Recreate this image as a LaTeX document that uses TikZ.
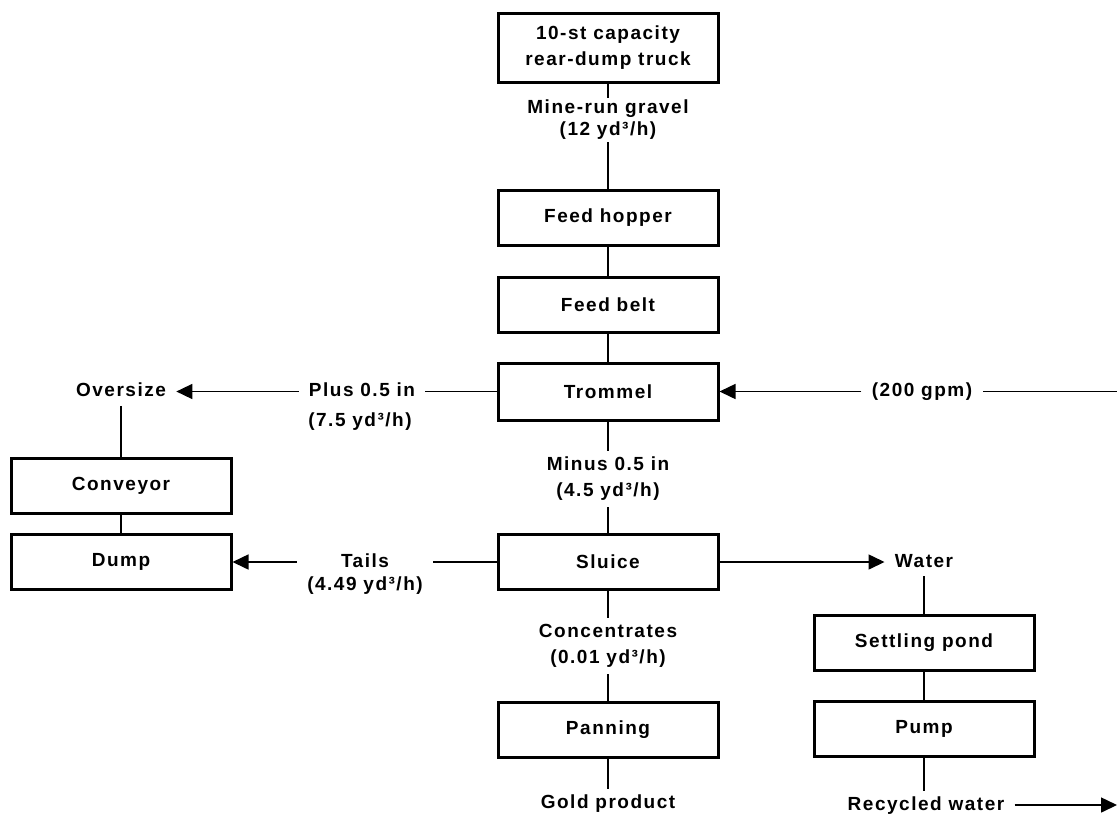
\documentclass[tikz,border=0pt]{standalone}
\usepackage{fontspec}
\setmainfont{Liberation Sans}[LetterSpace=8]
\usetikzlibrary{arrows.meta}
\usetikzlibrary{positioning}

\begin{document}
\begin{tikzpicture}[x=0.5pt,y=-0.5pt,
every node/.style={font=\fontsize{9.5}{13}\selectfont\bfseries},
box/.style={draw,line width=1.5pt,minimum width=110pt,minimum height=27.5pt,align=center},
lbl/.style={align=center,inner xsep=5pt,inner ysep=3pt},
hlbl/.style={inner xsep=5pt,inner ysep=2.5pt,text height=7pt,text depth=2pt},
flow/.style={line width=0.75pt},
arr/.style={line width=0.75pt,-{Triangle[length=8pt,width=7.5pt]}}]
%\draw[help lines] (0,0) grid (1117,814);
\useasboundingbox (0,0) rectangle (1117,814);

% main column
\node[box,minimum height=34.5pt] (Truck) at (608,47.5) {10-st capacity\\rear-dump truck};
\node[lbl,inner ysep=1pt] (Gravel) at (608,120) {Mine-run gravel\\[-2pt](12 yd³/h)};
\node[box] (Hopper) at (608,218) {Feed hopper};
\node[box] (Belt) at (608,304.5) {Feed belt};
\node[box,minimum height=28.5pt] (Trommel) at (608,391.5) {Trommel};
\node[lbl] (Minus) at (608,479) {Minus 0.5 in\\(4.5 yd³/h)};
\node[box] (Sluice) at (608,562) {Sluice};
\node[lbl] (Conc) at (608,646) {Concentrates\\(0.01 yd³/h)};
\node[box] (Panning) at (608,729.5) {Panning};
\node[hlbl] (Gold) at (608,803) {Gold product};

% oversize side
\node[hlbl] (Plus) at (362,391.5) {Plus 0.5 in};
\node[hlbl] (PlusRate) at (360,421) {(7.5 yd³/h)};
\node[hlbl] (Oversize) at (121,391.5) {Oversize};
\node[box] (Conveyor) at (121,486) {Conveyor};
\node[box] (Dump) at (121,562) {Dump};
\node[hlbl] (Tails) at (365,562) {Tails};
\node[hlbl] (TailsRate) at (365,585) {(4.49 yd³/h)};

% water side
\coordinate (WaterIn) at (1117,391.5);
\node[hlbl] (Gpm) at (922,391.5) {(200 gpm)};
\node[hlbl] (Water) at (924,562) {Water};
\node[box] (Pond) at (924,642.5) {Settling pond};
\node[box] (Pump) at (924,728.5) {Pump};
\node[hlbl] (Recycled) at (926,805) {Recycled water};
\coordinate (WaterOut) at (1117,805);

\draw[flow] (Truck) -- (Gravel);
\draw[flow] (Gravel) -- (Hopper);
\draw[flow] (Hopper) -- (Belt);
\draw[flow] (Belt) -- (Trommel);
\draw[flow] (Trommel) -- (Minus);
\draw[flow] (Minus) -- (Sluice);
\draw[flow] (Sluice) -- (Conc);
\draw[flow] (Conc) -- (Panning);
\draw[flow] (Panning) -- (Gold);

\draw[flow] (Trommel.west) -- (Plus.east);
\draw[arr] (Plus.west) -- (Oversize.east);
\draw[flow] (Oversize) -- (Conveyor);
\draw[flow] (Conveyor) -- (Dump);
\draw[flow] (Sluice.west) -- (TailsRate.east |- Sluice.west);
\draw[arr] (TailsRate.west |- Sluice.west) -- (Dump.east);

\draw[flow] (WaterIn) -- (Gpm.east);
\draw[arr] (Gpm.west) -- (Trommel.east);
\draw[arr] (Sluice.east) -- (Water.west);
\draw[flow] (Water) -- (Pond);
\draw[flow] (Pond) -- (Pump);
\draw[flow] (Pump.south) -- (Pump.south |- Recycled.north);
\draw[arr] (Recycled.east) -- (WaterOut);
\end{tikzpicture}
\end{document}
